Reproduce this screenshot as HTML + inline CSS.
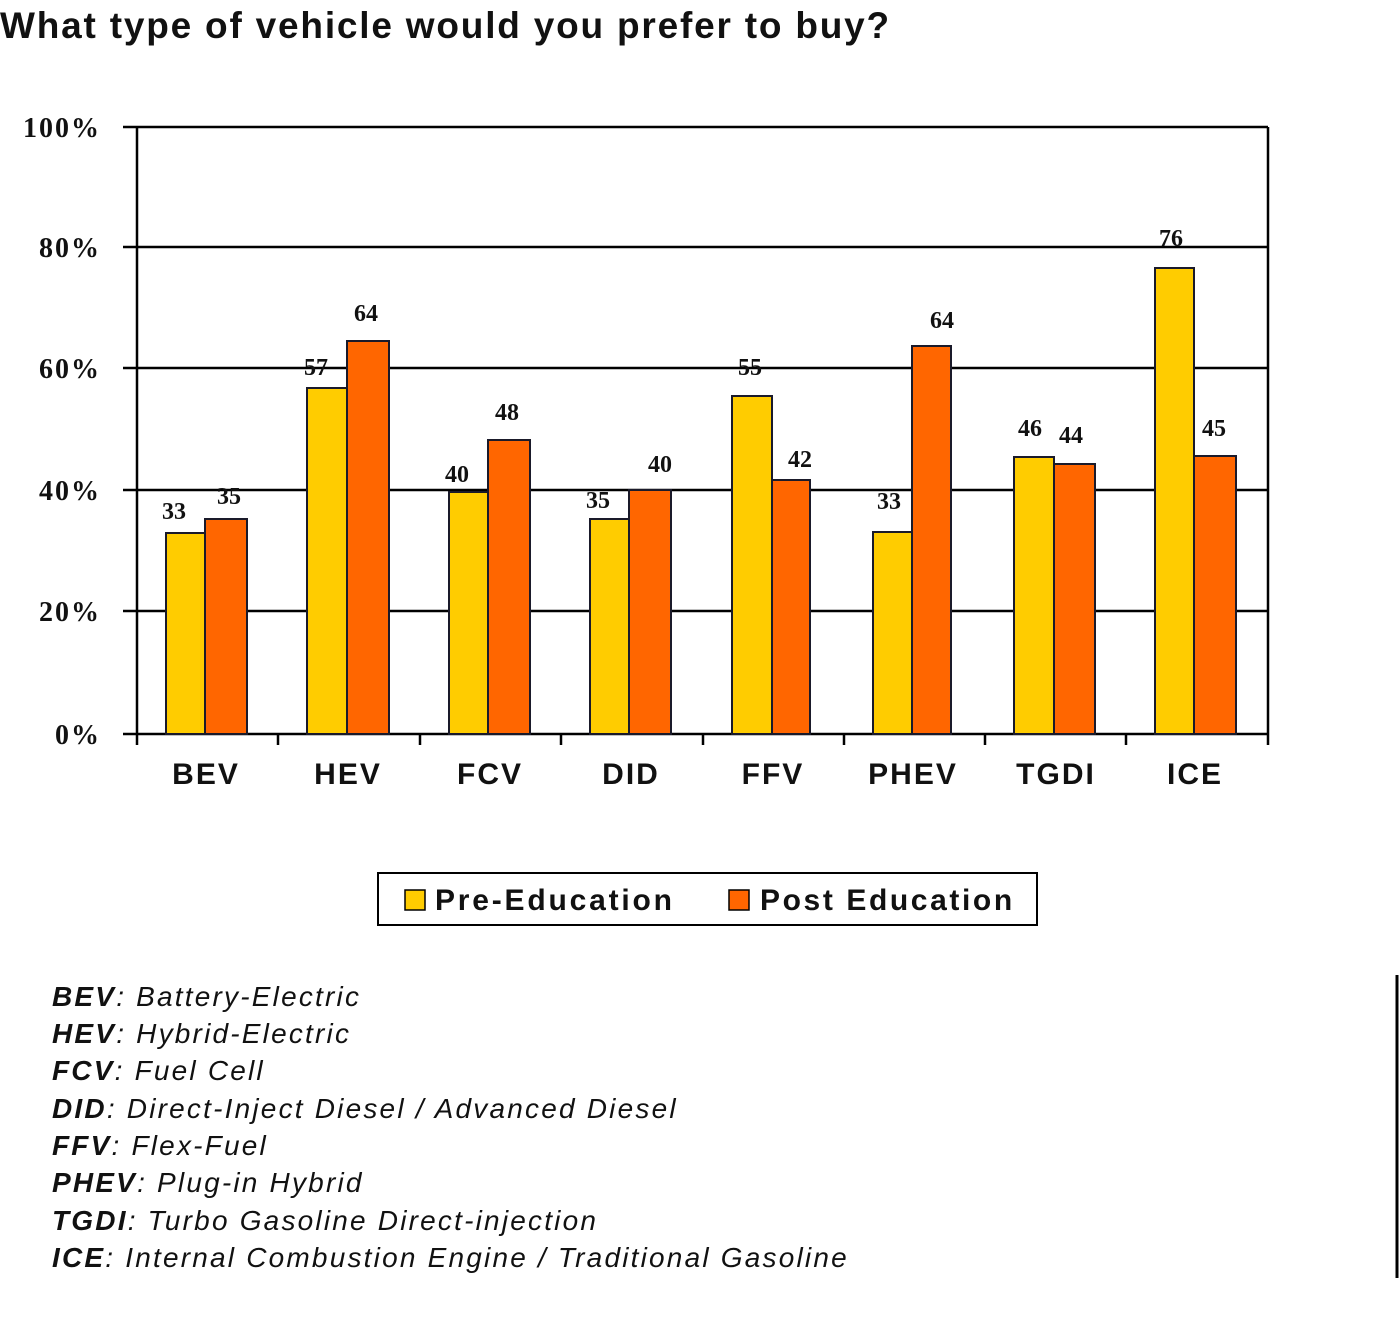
<!DOCTYPE html>
<html><head><meta charset="utf-8"><style>
body{margin:0;background:#fff;}
svg{display:block;}
.yl{font-family:"Liberation Serif",serif;font-weight:bold;font-size:28px;text-anchor:end;letter-spacing:2px;}
.dl{font-family:"Liberation Serif",serif;font-weight:bold;font-size:24px;text-anchor:middle;}
.cl{font-family:"Liberation Sans",sans-serif;font-weight:bold;font-size:30px;text-anchor:middle;letter-spacing:2px;}
.fn{font-family:"Liberation Sans",sans-serif;font-style:italic;font-size:28px;letter-spacing:2.2px;}
</style></head><body>
<svg width="1400" height="1319" viewBox="0 0 1400 1319" xmlns="http://www.w3.org/2000/svg">
<text x="0" y="38" font-family="Liberation Sans,sans-serif" font-size="37" font-weight="bold" fill="#111" letter-spacing="1.8">What type of vehicle would you prefer to buy?</text>
<g stroke="#000" stroke-width="2.5">
<line x1="123" y1="127" x2="1268" y2="127"/>
<line x1="123" y1="247" x2="1268" y2="247"/>
<line x1="123" y1="368" x2="1268" y2="368"/>
<line x1="123" y1="490" x2="1268" y2="490"/>
<line x1="123" y1="611" x2="1268" y2="611"/>
<line x1="123" y1="734" x2="1268" y2="734"/>
<line x1="137" y1="127" x2="137" y2="745"/>
<line x1="1268" y1="127" x2="1268" y2="745"/>
<line x1="278" y1="734" x2="278" y2="745"/>
<line x1="420" y1="734" x2="420" y2="745"/>
<line x1="561" y1="734" x2="561" y2="745"/>
<line x1="703" y1="734" x2="703" y2="745"/>
<line x1="844" y1="734" x2="844" y2="745"/>
<line x1="985" y1="734" x2="985" y2="745"/>
<line x1="1126" y1="734" x2="1126" y2="745"/>
</g>
<g fill="#111">
<text x="101" y="137" class="yl">100%</text>
<text x="101" y="257" class="yl">80%</text>
<text x="101" y="378" class="yl">60%</text>
<text x="101" y="500" class="yl">40%</text>
<text x="101" y="621" class="yl">20%</text>
<text x="101" y="744" class="yl">0%</text>
</g>
<g stroke="#1a1a2a" stroke-width="2">
<rect x="166" y="533" width="39" height="201" fill="#FFCC00"/>
<rect x="205" y="519" width="42" height="215" fill="#FF6600"/>
<rect x="307" y="388" width="40" height="346" fill="#FFCC00"/>
<rect x="347" y="341" width="42" height="393" fill="#FF6600"/>
<rect x="449" y="492" width="39" height="242" fill="#FFCC00"/>
<rect x="488" y="440" width="42" height="294" fill="#FF6600"/>
<rect x="590" y="519" width="39" height="215" fill="#FFCC00"/>
<rect x="629" y="490" width="42" height="244" fill="#FF6600"/>
<rect x="732" y="396" width="40" height="338" fill="#FFCC00"/>
<rect x="772" y="480" width="38" height="254" fill="#FF6600"/>
<rect x="873" y="532" width="39" height="202" fill="#FFCC00"/>
<rect x="912" y="346" width="39" height="388" fill="#FF6600"/>
<rect x="1014" y="457" width="40" height="277" fill="#FFCC00"/>
<rect x="1054" y="464" width="41" height="270" fill="#FF6600"/>
<rect x="1155" y="268" width="39" height="466" fill="#FFCC00"/>
<rect x="1194" y="456" width="42" height="278" fill="#FF6600"/>
</g>
<g fill="#111">
<text class="dl" x="174" y="519">33</text><text class="dl" x="229" y="504">35</text>
<text class="dl" x="316" y="375">57</text><text class="dl" x="366" y="321">64</text>
<text class="dl" x="457" y="482">40</text><text class="dl" x="507" y="420">48</text>
<text class="dl" x="598" y="508">35</text><text class="dl" x="660" y="472">40</text>
<text class="dl" x="750" y="375">55</text><text class="dl" x="800" y="467">42</text>
<text class="dl" x="889" y="509">33</text><text class="dl" x="942" y="328">64</text>
<text class="dl" x="1030" y="436">46</text><text class="dl" x="1071" y="443">44</text>
<text class="dl" x="1171" y="246">76</text><text class="dl" x="1214" y="436">45</text>
</g>
<g fill="#111">
<text class="cl" x="206" y="784">BEV</text>
<text class="cl" x="348" y="784">HEV</text>
<text class="cl" x="490" y="784">FCV</text>
<text class="cl" x="631" y="784">DID</text>
<text class="cl" x="773" y="784">FFV</text>
<text class="cl" x="913" y="784">PHEV</text>
<text class="cl" x="1056" y="784">TGDI</text>
<text class="cl" x="1195" y="784">ICE</text>
</g>
<rect x="378" y="873" width="659" height="52" fill="#fff" stroke="#000" stroke-width="2"/>
<rect x="405" y="890" width="20" height="20" fill="#FFCC00" stroke="#000" stroke-width="1.5"/>
<text x="435" y="910" font-family="Liberation Sans,sans-serif" font-weight="bold" font-size="30" letter-spacing="2.8" fill="#111">Pre-Education</text>
<rect x="729" y="890" width="20" height="20" fill="#FF6600" stroke="#000" stroke-width="1.5"/>
<text x="760" y="910" font-family="Liberation Sans,sans-serif" font-weight="bold" font-size="30" letter-spacing="2.6" fill="#111">Post Education</text>
<g fill="#111">
<text class="fn" x="52" y="1006"><tspan font-weight="bold">BEV</tspan>: Battery-Electric</text>
<text class="fn" x="52" y="1043"><tspan font-weight="bold">HEV</tspan>: Hybrid-Electric</text>
<text class="fn" x="52" y="1080"><tspan font-weight="bold">FCV</tspan>: Fuel Cell</text>
<text class="fn" x="52" y="1118"><tspan font-weight="bold">DID</tspan>: Direct-Inject Diesel / Advanced Diesel</text>
<text class="fn" x="52" y="1155"><tspan font-weight="bold">FFV</tspan>: Flex-Fuel</text>
<text class="fn" x="52" y="1192"><tspan font-weight="bold">PHEV</tspan>: Plug-in Hybrid</text>
<text class="fn" x="52" y="1230"><tspan font-weight="bold">TGDI</tspan>: Turbo Gasoline Direct-injection</text>
<text class="fn" x="52" y="1267"><tspan font-weight="bold">ICE</tspan>: Internal Combustion Engine / Traditional Gasoline</text>
</g>
<line x1="1397" y1="975" x2="1397" y2="1278" stroke="#000" stroke-width="3"/>
</svg>
</body></html>
